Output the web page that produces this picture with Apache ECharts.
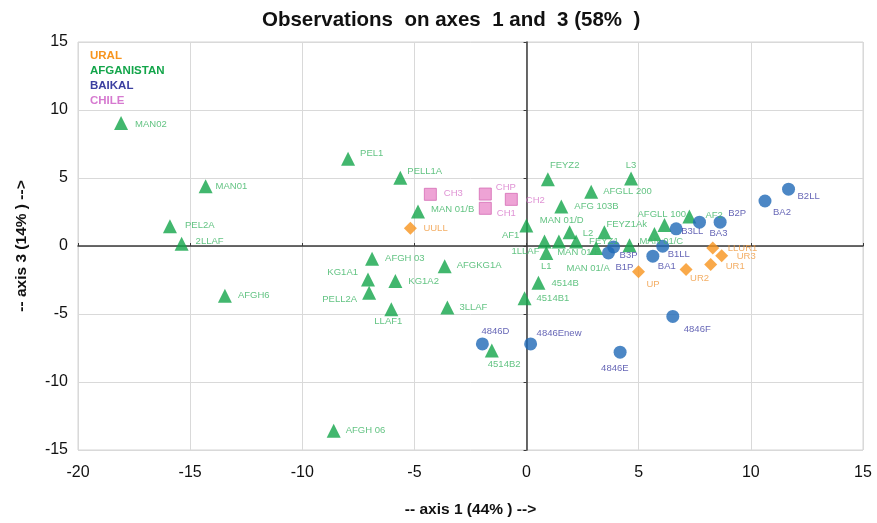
<!DOCTYPE html>
<html>
<head>
<meta charset="utf-8">
<script src="https://cdn.jsdelivr.net/npm/echarts@6/dist/echarts.min.js"></script>
<style>html,body{margin:0;padding:0;background:#fff}#c{width:877px;height:523px}</style>
</head>
<body>
<div id="c"></div>
<script>
// ---- data: [name, axis1, axis3] ----
const ural = [
  ['UULL', -5.18, 1.31], ['UP', 4.99, -1.90], ['UR2', 7.11, -1.73],
  ['UR1', 8.21, -1.36], ['UR3', 8.70, -0.71], ['LLUR1', 8.30, -0.15]
];
const afganistan = [
  ['MAN02', -18.08, 9.05], ['MAN01', -14.31, 4.40], ['PEL2A', -15.90, 1.46],
  ['2LLAF', -15.38, 0.17], ['AFGH6', -13.45, -3.65], ['AFGH 06', -8.60, -13.58],
  ['PEL1', -7.96, 6.42], ['PELL1A', -5.63, 5.01], ['MAN 01/B', -4.84, 2.53],
  ['AFGH 03', -6.89, -0.93], ['AFGKG1A', -3.65, -1.48], ['KG1A1', -7.07, -2.46],
  ['KG1A2', -5.85, -2.58], ['PELL2A', -7.02, -3.43], ['LLAF1', -6.03, -4.65],
  ['3LLAF', -3.53, -4.53], ['4514B1', -0.09, -3.85], ['4514B', 0.53, -2.70],
  ['4514B2', -1.55, -7.69], ['AF1', -0.01, 1.51], ['1LLAF', 0.80, 0.34],
  ['L1', 0.88, -0.51], ['MAN 01/D', 1.44, 0.34], ['L2', 1.92, 1.02],
  ['MAN 01/E', 2.21, 0.34], ['FEYZ1Ak', 3.47, 1.02], ['FEYZ1', 3.10, -0.15],
  ['MAN 01/A', 4.59, 0.05], ['MAN 01/C', 5.70, 0.88], ['AFGLL 100', 6.15, 1.55],
  ['AF2', 7.26, 2.17], ['FEYZ2', 0.95, 4.91], ['L3', 4.66, 4.96],
  ['AFGLL 200', 2.88, 3.99], ['AFG 103B', 1.55, 2.90]
];
const baikal = [
  ['B2LL', 11.68, 4.18], ['BA2', 10.63, 3.31], ['B2P', 8.63, 1.75],
  ['BA3', 7.71, 1.75], ['B3LL', 6.67, 1.26], ['B1LL', 6.07, -0.02],
  ['BA1', 5.63, -0.75], ['B3P', 3.88, -0.07], ['B1P', 3.65, -0.51],
  ['4846D', -1.97, -7.20], ['4846Enew', 0.18, -7.20], ['4846E', 4.17, -7.81],
  ['4846F', 6.52, -5.18]
];
const chile = [
  ['CH3', -4.29, 3.80], ['CHP', -1.84, 3.82], ['CH1', -1.84, 2.77], ['CH2', -0.68, 3.43]
];
const xTicks = [-20, -15, -10, -5, 0, 5, 10, 15];
const yTicks = [-15, -10, -5, 0, 5, 10, 15];

// ---- label placement (style only): [dx from centre, dy from centre, align] ----
const labelPos = {
  'UULL':[13,0,'left'], 'UP':[8,13,'left'], 'UR2':[4,9,'left'], 'UR1':[15,2,'left'],
  'UR3':[15,1,'left'], 'LLUR1':[15,0,'left'],
  'MAN02':[14,1,'left'], 'MAN01':[10,0,'left'], 'PEL2A':[15,-1,'left'], '2LLAF':[14,-2,'left'],
  'AFGH6':[13,0,'left'], 'AFGH 06':[12,0,'left'], 'PEL1':[12,-5,'left'], 'PELL1A':[7,-6,'left'],
  'MAN 01/B':[13,-2,'left'], 'AFGH 03':[13,0,'left'], 'AFGKG1A':[12,-1,'left'],
  'KG1A1':[-10,-7,'right'], 'KG1A2':[13,0,'left'], 'PELL2A':[-12,7,'right'],
  'LLAF1':[-3,12,'center'], '3LLAF':[12,0,'left'], '4514B1':[12,0,'left'], '4514B':[13,1,'left'],
  '4514B2':[-4,14,'left'], 'AF1':[-7,10,'right'], '1LLAF':[-5,10,'right'], 'L1':[0,13,'center'],
  'MAN 01/D':[-19,-21,'left'], 'L2':[13,1,'left'], 'MAN 01/E':[-19,11,'left'],
  'FEYZ1Ak':[2,-8,'left'], 'FEYZ1':[-7,-7,'left'], 'MAN 01/A':[-63,23,'left'],
  'MAN 01/C':[-15,7,'left'], 'AFGLL 100':[-27,-11,'left'], 'AF2':[16,-1,'left'],
  'FEYZ2':[2,-14,'left'], 'L3':[0,-13,'center'], 'AFGLL 200':[12,0,'left'], 'AFG 103B':[13,0,'left'],
  'B2LL':[9,7,'left'], 'BA2':[8,11,'left'], 'B2P':[8,-9,'left'], 'BA3':[10,11,'left'],
  'B3LL':[5,3,'left'], 'B1LL':[5,8,'left'], 'BA1':[5,10,'left'], 'B3P':[6,8,'left'],
  'B1P':[7,14,'left'], '4846D':[-1,-13,'left'], '4846Enew':[6,-11,'left'],
  '4846E':[-19,16,'left'], '4846F':[11,13,'left'],
  'CH3':[14,0,'left'], 'CHP':[11,-6,'left'], 'CH1':[12,6,'left'], 'CH2':[15,2,'left']
};

const FONT = 'Liberation Sans, Arial, sans-serif';
function build(rows, size, labelColor) {
  return rows.map(r => {
    const p = labelPos[r[0]] || [8, 0, 'left'];
    return {
      name: r[0],
      value: [r[1], r[2]],
      label: {
        show: true,
        formatter: r[0],
        position: [size / 2 + p[0], size / 2 + p[1]],
        align: p[2],
        verticalAlign: 'middle',
        color: labelColor,
        fontSize: 9.5,
        fontFamily: FONT
      }
    };
  });
}

const C = {
  ural: '#F7941D', uralTxt: '#F09A3E',
  afg: '#13A54A', afgTxt: '#3BB463',
  bai: '#1F69B6', baiTxt: '#3D3DA3',
  chi: '#EA8CCB', chiTxt: '#D777C9'
};

const chart = echarts.init(document.getElementById('c'), null, {renderer: 'canvas'});
chart.setOption({
  animation: false,
  backgroundColor: '#fff',
  title: {
    text: 'Observations  on axes  1 and  3 (58%  )',
    left: 257, top: 5,
    textStyle: {fontSize: 20.5, fontWeight: 'bold', color: '#111', fontFamily: FONT}
  },
  legend: {
    orient: 'vertical', left: 79, top: 45,
    icon: 'rect', itemWidth: 0, itemHeight: 0, itemGap: 3,
    selectedMode: false,
    data: [
      {name: 'URAL', textStyle: {color: C.ural}},
      {name: 'AFGANISTAN', textStyle: {color: C.afg}},
      {name: 'BAIKAL', textStyle: {color: '#3B3FA0'}},
      {name: 'CHILE', textStyle: {color: '#D67AD0'}}
    ],
    textStyle: {fontSize: 11.5, fontWeight: 'bold', fontFamily: FONT, padding: [0, 0, 0, 0]}
  },
  grid: {left: 78, right: 14, top: 42, bottom: 69, show: true, borderColor: '#d4d4d4', borderWidth: 1},
  xAxis: [
    {
      type: 'value', min: xTicks[0], max: xTicks[xTicks.length - 1], interval: 5,
      position: 'bottom',
      name: '-- axis 1 (44% ) -->', nameLocation: 'middle', nameGap: 52,
      nameTextStyle: {fontSize: 15.5, fontWeight: 'bold', color: '#111', fontFamily: FONT},
      axisLine: {show: false}, axisTick: {show: false},
      axisLabel: {fontSize: 16, color: '#111', margin: 15, fontFamily: FONT},
      splitLine: {show: true, lineStyle: {color: '#d9d9d9', width: 1}}
    },
    {
      type: 'value', min: xTicks[0], max: xTicks[xTicks.length - 1], interval: 5,
      axisLine: {show: true, onZero: true, lineStyle: {color: '#3a3a3a', width: 1.5}},
      axisTick: {show: true, length: 3, lineStyle: {color: '#3a3a3a'}},
      axisLabel: {show: false}, splitLine: {show: false}
    }
  ],
  yAxis: [
    {
      type: 'value', min: yTicks[0], max: yTicks[yTicks.length - 1], interval: 5,
      position: 'left',
      name: '-- axis 3 (14% ) -->', nameLocation: 'middle', nameGap: 48, nameRotate: 90,
      nameTextStyle: {fontSize: 15.5, fontWeight: 'bold', color: '#111', fontFamily: FONT},
      axisLine: {show: false}, axisTick: {show: false},
      axisLabel: {fontSize: 16, color: '#111', margin: 10, fontFamily: FONT},
      splitLine: {show: true, lineStyle: {color: '#d9d9d9', width: 1}}
    },
    {
      type: 'value', min: yTicks[0], max: yTicks[yTicks.length - 1], interval: 5,
      position: 'left',
      axisLine: {show: true, onZero: true, lineStyle: {color: '#3a3a3a', width: 1.5}},
      axisTick: {show: true, length: 3, lineStyle: {color: '#3a3a3a'}},
      axisLabel: {show: false}, splitLine: {show: false}
    }
  ],
  series: [
    {
      name: 'AFGANISTAN', type: 'scatter', xAxisIndex: 0, yAxisIndex: 0,
      symbol: 'triangle', symbolSize: 14,
      itemStyle: {color: C.afg},
      data: build(afganistan, 14, C.afgTxt)
    },
    {
      name: 'BAIKAL', type: 'scatter', xAxisIndex: 0, yAxisIndex: 0,
      symbol: 'circle', symbolSize: 13,
      itemStyle: {color: C.bai},
      data: build(baikal, 13, C.baiTxt)
    },
    {
      name: 'URAL', type: 'scatter', xAxisIndex: 0, yAxisIndex: 0,
      symbol: 'diamond', symbolSize: 13,
      itemStyle: {color: C.ural},
      data: build(ural, 13, C.uralTxt)
    },
    {
      name: 'CHILE', type: 'scatter', xAxisIndex: 0, yAxisIndex: 0,
      symbol: 'rect', symbolSize: 12,
      itemStyle: {color: C.chi, borderColor: '#D46AB4', borderWidth: 1},
      data: build(chile, 12, C.chiTxt)
    }
  ]
});
</script>
</body>
</html>
